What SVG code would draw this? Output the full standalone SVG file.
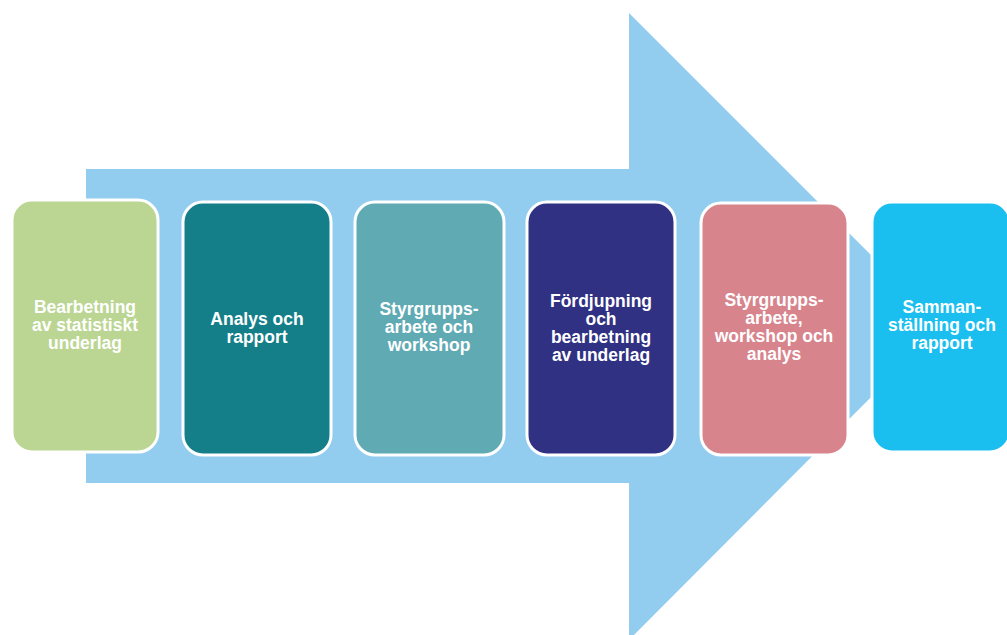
<svg xmlns="http://www.w3.org/2000/svg" width="1007" height="635" viewBox="0 0 1007 635">
<style>
.box{stroke:#ffffff;stroke-width:3}
.lbl{font-family:"Liberation Sans",Arial,sans-serif;font-weight:bold;font-size:17.5px;fill:#ffffff;text-anchor:middle}
</style>
<rect width="1007" height="635" fill="#ffffff"/>
<g id="arrow">
<polygon points="86,169 629,169 629,13 942,326 629,640 629,483 86,483" fill="#92CDEF"/>
</g>
<g id="connectors"></g>
<g id="n1">
<rect class="box" x="12" y="200" width="146" height="252" rx="20" fill="#BBD593"/>
<text class="lbl" x="85" y="313">Bearbetning</text>
<text class="lbl" x="85" y="331">av statistiskt</text>
<text class="lbl" x="85" y="349">underlag</text>
</g>
<g id="n2">
<rect class="box" x="183" y="202" width="148" height="253" rx="20" fill="#147F89"/>
<text class="lbl" x="257" y="325">Analys och</text>
<text class="lbl" x="257" y="343">rapport</text>
</g>
<g id="n3">
<rect class="box" x="355" y="202" width="149" height="253" rx="20" fill="#5FAAB3"/>
<text class="lbl" x="429" y="315">Styrgrupps-</text>
<text class="lbl" x="429" y="333">arbete och</text>
<text class="lbl" x="429" y="351">workshop</text>
</g>
<g id="n4">
<rect class="box" x="527" y="202" width="148" height="253" rx="20" fill="#303183"/>
<text class="lbl" x="601" y="307">Fördjupning</text>
<text class="lbl" x="601" y="325">och</text>
<text class="lbl" x="601" y="343">bearbetning</text>
<text class="lbl" x="601" y="361">av underlag</text>
</g>
<g id="n5">
<rect class="box" x="701" y="203" width="147" height="252" rx="20" fill="#D8848D"/>
<text class="lbl" x="774" y="306">Styrgrupps-</text>
<text class="lbl" x="774" y="324">arbete,</text>
<text class="lbl" x="774" y="342">workshop och</text>
<text class="lbl" x="774" y="360">analys</text>
</g>
<g id="n6">
<rect class="box" x="872" y="202" width="138" height="250" rx="20" fill="#1ABFEF"/>
<text class="lbl" x="942" y="313">Samman-</text>
<text class="lbl" x="942" y="331">ställning och</text>
<text class="lbl" x="942" y="349">rapport</text>
</g>
</svg>
